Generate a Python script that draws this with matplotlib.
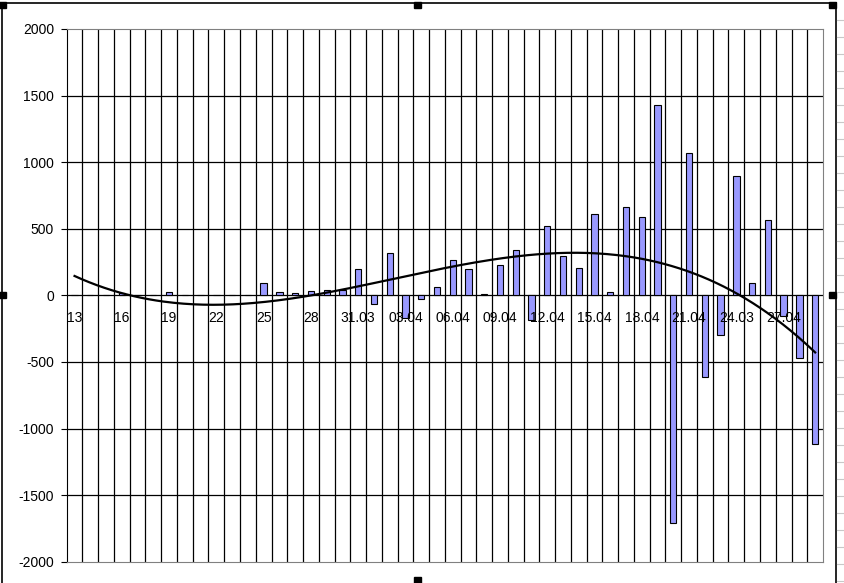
import numpy as np
import matplotlib.pyplot as plt
from matplotlib.patches import Rectangle
from matplotlib.lines import Line2D

plt.rcParams['font.family'] = ['Liberation Sans', 'DejaVu Sans']

# categories (day labels, only every third is shown)
days = ['13', '14', '15', '16', '17', '18', '19', '20', '21', '22', '23', '24',
        '25', '26', '27', '28', '29', '30', '31.03', '01.04', '02.04', '03.04',
        '04.04', '05.04', '06.04', '07.04', '08.04', '09.04', '10.04', '11.04',
        '12.04', '13.04', '14.04', '15.04', '16.04', '17.04', '18.04', '19.04',
        '20.04', '21.04', '22.04', '23.04', '24.03', '25.04', '26.04', '27.04',
        '28.04', '29.04']

values = [0, 0, 0, 15, 0, 0, 25, 0, 0, 5, 5, 0,
          92, 22, 15, 30, 43, 42, 195, -67, 320, -170,
          -27, 65, 263, 200, 8, 225, 337, -187,
          520, 293, 207, 610, 22, 662, 590, 1432,
          -1712, 1067, -610, -300, 893, 90, 563, -155,
          -473, -1115]

y_ticks = [2000, 1500, 1000, 500, 0, -500, -1000, -1500, -2000]

x = np.arange(len(days))

fig = plt.figure(figsize=(8.45, 5.83), dpi=100)
ax = fig.add_axes([0.0789, 0.0365, 0.8951, 0.9139])

ax.bar(x, values, width=0.4, color='#9999FF', edgecolor='black', linewidth=0.8, zorder=3)

# polynomial trend (3rd order, like the Excel trendline)
coef = np.polyfit(x + 1, values, 3)
xx = np.linspace(0, len(days) - 1, 300)
ax.plot(xx, np.polyval(coef, xx + 1), color='black', lw=1.6, zorder=4)

ax.set_xlim(-0.5, len(days) - 0.5)
ax.set_ylim(-2000, 2000)
ax.set_yticks(y_ticks)
ax.set_yticklabels([str(v) for v in y_ticks], fontsize=10)
ax.tick_params(axis='y', length=4, width=0.8, pad=5, color='black')
ax.set_xticks([])

for v in y_ticks[1:-1]:
    ax.axhline(v, color='black', lw=0.9, zorder=1)
for i in range(1, len(days)):
    ax.axvline(i - 0.5, color='black', lw=0.9, zorder=1)

for sp in ['top', 'right', 'bottom']:
    ax.spines[sp].set_color('#808080')
ax.spines['left'].set_color('black')

for i in range(0, len(days), 3):
    ax.text(x[i], -170, days[i], ha='center', va='center', fontsize=10, zorder=5)

# chart-area frame with selection handles (Excel look)
W, H = 845, 583
def px(xp, yp):
    return xp / W, 1 - yp / H

fig.add_artist(Line2D([0, 836 / W], [1 - 3 / H] * 2, color='black', lw=1.2))
fig.add_artist(Line2D([2 / W] * 2, [0, 1 - 3 / H], color='black', lw=1.2))
fig.add_artist(Line2D([836 / W] * 2, [0, 1 - 3 / H], color='black', lw=1.2))
for yp in range(20, H, 17):
    fig.add_artist(Line2D([837 / W, 845 / W], [1 - yp / H] * 2, color='#c8c8c8', lw=0.8))
for hx, hy in [(3, 5), (418, 5), (833, 5), (3, 295), (833, 295), (418, 580)]:
    cx, cy = px(hx, hy)
    fig.add_artist(Rectangle((cx - 3.5 / W, cy - 3 / H), 7 / W, 6 / H,
                             transform=fig.transFigure, color='black'))

fig.savefig('out.png', dpi=100)
